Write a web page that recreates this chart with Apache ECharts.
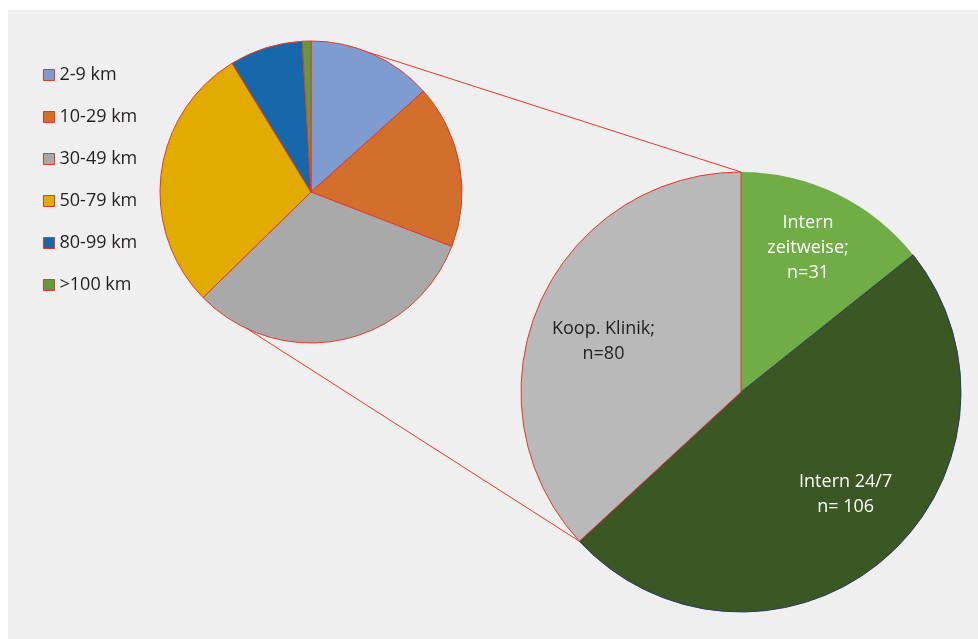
<!DOCTYPE html>
<html>
<head>
<meta charset="utf-8">
<script src="https://cdn.jsdelivr.net/npm/echarts@6/dist/echarts.min.js"></script>
<style>
html,body{margin:0;padding:0;background:#fff;}
#chart{width:978px;height:639px;}
</style>
</head>
<body>
<div id="chart"></div>
<script>
// ---- data ----
const distanceCategories = ['2-9 km', '10-29 km', '30-49 km', '50-79 km', '80-99 km', '>100 km'];
const distanceValues = [29, 38, 69, 62, 17, 2];
const careCategories = ['Intern\nzeitweise;\nn=31', 'Intern 24/7\nn= 106', 'Koop. Klinik;\nn=80'];
const careValues = [31, 106, 80];

// ---- styles ----
const distanceColors = ['#7f9cd0', '#d26f2d', '#a9a9a9', '#e1ab00', '#1767ab', '#5f9a3f'];
const careColors = ['#70ad47', '#3a5724', '#b9b9b9'];
const red = '#e3392b';
const navy = '#2b3a68';
const FONT = 'Open Sans';

const smallPie = { c: [311, 192], r: 151 };
const bigPie = { c: [741, 392], r: 220 };

function pt(p, deg) {
  const a = deg * Math.PI / 180;
  return [p.c[0] + p.r * Math.sin(a), p.c[1] - p.r * Math.cos(a)];
}
const careTotal = careValues.reduce((a, b) => a + b, 0);
const koopStart = (careValues[0] + careValues[1]) / careTotal * 360;
const t1 = pt(smallPie, 13.5), t2 = pt(bigPie, 0);
const b1 = pt(smallPie, 220.5), b2 = pt(bigPie, koopStart);

const chart = echarts.init(document.getElementById('chart'), null, { renderer: 'canvas' });
const labelShift = [[18, -42], [31, 17], [-34, -5]];
const option = {
  backgroundColor: '#ffffff',
  animation: false,
  textStyle: { fontFamily: FONT },
  graphic: [
    { type: 'rect', z: -10, silent: true, shape: { x: 8, y: 10, width: 970, height: 629 }, style: { fill: '#efefef' } },
    { type: 'line', z: 1, silent: true, shape: { x1: t1[0], y1: t1[1], x2: t2[0], y2: t2[1] }, style: { stroke: red, lineWidth: 1 } },
    { type: 'line', z: 1, silent: true, shape: { x1: b1[0], y1: b1[1], x2: b2[0], y2: b2[1] }, style: { stroke: red, lineWidth: 1 } }
  ],
  legend: {
    orient: 'vertical',
    left: 38,
    top: 60,
    icon: 'rect',
    itemWidth: 11,
    itemHeight: 11,
    itemGap: 22,
    data: distanceCategories,
    itemStyle: { borderColor: red, borderWidth: 1 },
    textStyle: { fontFamily: FONT, fontSize: 18, color: '#231f20', lineHeight: 20, padding: [0, 0, 0, 0] }
  },
  series: [
    {
      type: 'pie',
      z: 3,
      center: smallPie.c,
      radius: smallPie.r,
      startAngle: 90,
      clockwise: true,
      label: { show: false },
      labelLine: { show: false },
      silent: true,
      itemStyle: { borderColor: red, borderWidth: 1 },
      data: distanceCategories.map((n, i) => ({ name: n, value: distanceValues[i], itemStyle: { color: distanceColors[i] } }))
    },
    {
      type: 'pie',
      z: 3,
      center: bigPie.c,
      radius: bigPie.r,
      startAngle: 90,
      clockwise: true,
      silent: true,
      legendHoverLink: false,
      avoidLabelOverlap: false,
      label: {
        show: true,
        position: 'inside',
        formatter: '{b}',
        fontFamily: FONT,
        fontSize: 18,
        lineHeight: 25,
        align: 'center'
      },
      labelLine: { show: false },
      labelLayout: function (p) {
        const s = labelShift[p.dataIndex];
        return { dx: s[0], dy: s[1] };
      },
      data: careCategories.map((n, i) => ({
        name: n,
        value: careValues[i],
        itemStyle: {
          color: careColors[i],
          borderColor: i === 2 ? red : navy,
          borderWidth: i === 0 ? 0 : 1
        },
        label: { color: i === 2 ? '#231f20' : '#ffffff' }
      }))
    }
  ]
};
chart.setOption(option);
</script>
</body>
</html>
